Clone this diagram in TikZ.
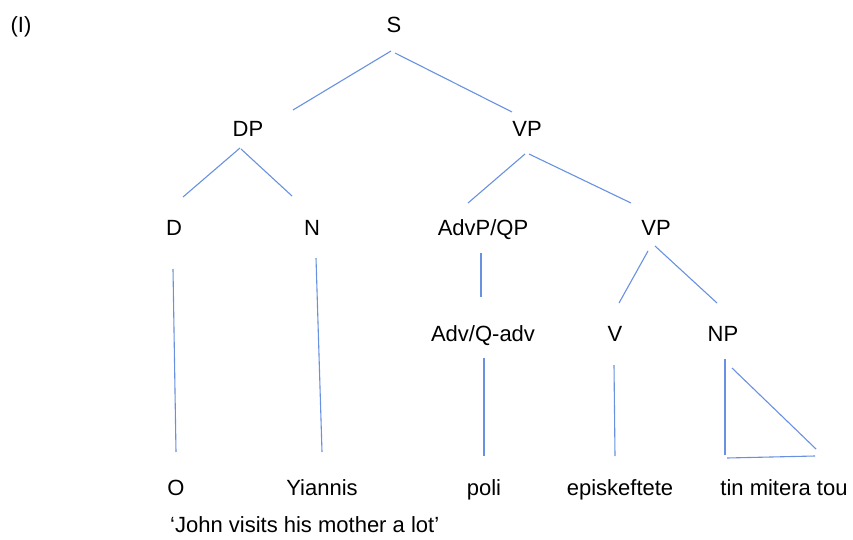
\documentclass[tikz,border=0pt]{standalone}
\usepackage{fontspec}
\setmainfont{Liberation Sans}
\definecolor{treeline}{RGB}{105,145,225}
\begin{document}
\begin{tikzpicture}[x=1pt,y=-1pt,
  lbl/.style={anchor=base,inner sep=0pt,font=\fontsize{22}{26}\selectfont},
  edge/.style={draw=treeline,line width=1.1pt}]
\useasboundingbox (0,0) rectangle (853,540);
% labels
\node[lbl] (ex) at (21,33) {(I)};
\node[lbl] (S) at (394,33) {S};
\node[lbl] (DP) at (248,137) {DP};
\node[lbl] (VP) at (527,137) {VP};
\node[lbl] (D) at (174,235) {D};
\node[lbl] (N) at (312,235) {N};
\node[lbl] (AdvP) at (483,235) {AdvP/QP};
\node[lbl] (VPb) at (656,235) {VP};
\node[lbl] (Adv) at (483,341) {Adv/Q-adv};
\node[lbl] (V) at (615,341) {V};
\node[lbl] (NP) at (723,341) {NP};
\node[lbl] (O) at (176,495) {O};
\node[lbl] (Yi) at (322,495) {Yiannis};
\node[lbl] (poli) at (484,495) {poli};
\node[lbl] (epi) at (620,495) {episkeftete};
\node[lbl] (tin) at (784,495) {tin mitera tou};
\node[lbl,anchor=base west] (gloss) at (170,532) {`John visits his mother a lot'};
% connector end points
\coordinate (s1) at (391,51); \coordinate (dp1) at (293,110);
\coordinate (s2) at (395,53); \coordinate (vp1) at (512,112);
\coordinate (dp2) at (240,148); \coordinate (d1) at (183,197);
\coordinate (dp3) at (241,149); \coordinate (n1) at (292,196);
\coordinate (vp2) at (525,154); \coordinate (advp1) at (468,203);
\coordinate (vp3) at (529,154); \coordinate (vpb1) at (631,203);
\coordinate (advp2) at (481,253); \coordinate (adv1) at (481,297);
\coordinate (vpb2) at (648,251); \coordinate (v1) at (619,303);
\coordinate (vpb3) at (655,246); \coordinate (np1) at (717,303);
\coordinate (d2) at (173,269); \coordinate (o1) at (176,452);
\coordinate (n2) at (316,258); \coordinate (yi1) at (322,452);
\coordinate (adv2) at (484,358); \coordinate (poli1) at (484,456);
\coordinate (v2) at (614,365); \coordinate (epi1) at (615,456);
\coordinate (np2) at (725,359); \coordinate (np3) at (725,455);
\coordinate (np4) at (732,368); \coordinate (np5) at (816,449);
\coordinate (np6) at (727,458); \coordinate (np7) at (815,456);
% connectors
\draw[edge] (s1) -- (dp1);
\draw[edge] (s2) -- (vp1);
\draw[edge] (dp2) -- (d1);
\draw[edge] (dp3) -- (n1);
\draw[edge] (vp2) -- (advp1);
\draw[edge] (vp3) -- (vpb1);
\draw[edge] (advp2) -- (adv1);
\draw[edge] (vpb2) -- (v1);
\draw[edge] (vpb3) -- (np1);
\draw[edge] (d2) -- (o1);
\draw[edge] (n2) -- (yi1);
\draw[edge] (adv2) -- (poli1);
\draw[edge] (v2) -- (epi1);
\draw[edge] (np2) -- (np3);
\draw[edge] (np4) -- (np5);
\draw[edge] (np6) -- (np7);
\end{tikzpicture}
\end{document}
